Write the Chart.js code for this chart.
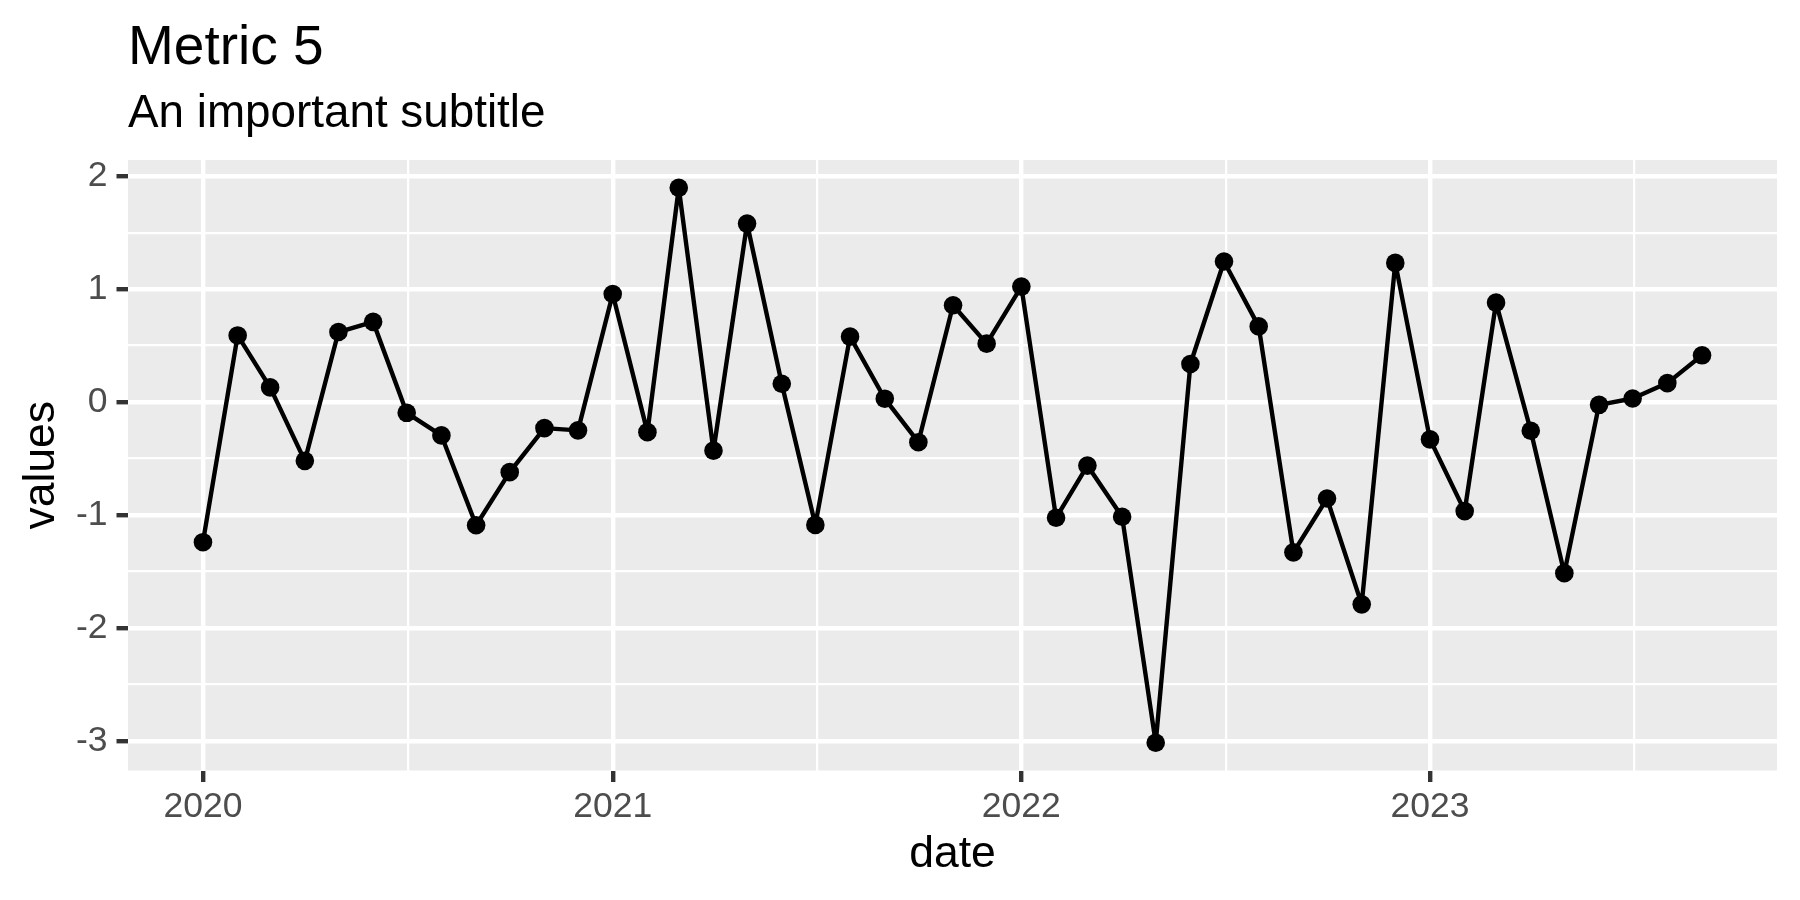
<!DOCTYPE html>
<html>
<head>
<meta charset="utf-8">
<title>Metric 5</title>
<script src="https://cdn.jsdelivr.net/npm/chart.js@4.4.0/dist/chart.umd.min.js"></script>
<style>
html, body { margin: 0; padding: 0; background: #ffffff; }
#wrap { width: 1800px; height: 900px; }
</style>
</head>
<body>
<div id="wrap"><canvas id="myChart"></canvas></div>
<script>
// monthly observations
var dates = [
    '2020-01', '2020-02', '2020-03', '2020-04', '2020-05', '2020-06',
    '2020-07', '2020-08', '2020-09', '2020-10', '2020-11', '2020-12',
    '2021-01', '2021-02', '2021-03', '2021-04', '2021-05', '2021-06',
    '2021-07', '2021-08', '2021-09', '2021-10', '2021-11', '2021-12',
    '2022-01', '2022-02', '2022-03', '2022-04', '2022-05', '2022-06',
    '2022-07', '2022-08', '2022-09', '2022-10', '2022-11', '2022-12',
    '2023-01', '2023-02', '2023-03', '2023-04', '2023-05', '2023-06',
    '2023-07', '2023-08', '2023-09'
];
var values = [
    -1.24, 0.59, 0.13, -0.52, 0.62, 0.71, -0.095, -0.295, -1.09, -0.62, -0.23, -0.25,
    0.957, -0.266, 1.897, -0.43, 1.58, 0.162, -1.087, 0.579, 0.03, -0.355, 0.857, 0.517,
    1.022, -1.024, -0.562, -1.015, -3.015, 0.337, 1.244, 0.67, -1.33, -0.853, -1.79, 1.232,
    -0.33, -0.965, 0.88, -0.254, -1.514, -0.024, 0.032, 0.168, 0.414
];
var xTickLabels = ['2020', '2021', '2022', '2023'];
var yTickValues = [-3, -2, -1, 0, 1, 2];

var titleText = 'Metric 5';
var subtitleText = 'An important subtitle';
var xTitle = 'date';
var yTitle = 'values';

var FONT = '"Liberation Sans", Arial, Helvetica, sans-serif';

function toTime(s) {
    var p = s.split('-');
    return Date.UTC(+p[0], +p[1] - 1, 1);
}

var points = dates.map(function(d, i) {
    return { x: toTime(d), y: values[i] };
});

// ggplot style 5% expansion of the data range
function expand(arr) {
    var lo = Math.min.apply(null, arr), hi = Math.max.apply(null, arr);
    var pad = (hi - lo) * 0.05;
    return [lo - pad, hi + pad];
}
var xs = points.map(function(p) { return p.x; });
var xRange = expand(xs);
var yRange = expand(values);

// major breaks + minor breaks half way between them
function xBreaks() {
    var major = xTickLabels.map(function(l) { return Date.UTC(+l, 0, 1); });
    var next = Date.UTC(+xTickLabels[xTickLabels.length - 1] + 1, 0, 1);
    var all = major.concat([next]);
    var ticks = [];
    for (var i = 0; i < major.length; i++) {
        ticks.push({ value: major[i], lab: xTickLabels[i] });
        ticks.push({ value: (all[i] + all[i + 1]) / 2, minor: true });
    }
    return ticks.filter(function(t) { return t.value >= xRange[0] && t.value <= xRange[1]; });
}
function yBreaks() {
    var ticks = [];
    var ext = [yTickValues[0] - 1].concat(yTickValues).concat([yTickValues[yTickValues.length - 1] + 1]);
    for (var i = 0; i < ext.length; i++) {
        ticks.push({ value: ext[i], minor: false });
        if (i < ext.length - 1) ticks.push({ value: (ext[i] + ext[i + 1]) / 2, minor: true });
    }
    return ticks.filter(function(t) { return t.value >= yRange[0] && t.value <= yRange[1]; });
}

function isMinor(c) { return c.tick && c.tick.minor; }

var gridOpts = {
    color: '#FFFFFF',
    lineWidth: function(c) { return isMinor(c) ? 2.2 : 4.4; },
    tickLength: 11.5,
    tickColor: function(c) { return isMinor(c) ? 'rgba(0,0,0,0)' : '#333333'; },
    tickWidth: function(c) { return isMinor(c) ? 0 : 4.4; }
};

var ggTheme = {
    id: 'ggTheme',
    beforeDraw: function(chart) {
        var a = chart.chartArea, ctx = chart.ctx;
        ctx.save();
        ctx.fillStyle = '#EBEBEB';
        ctx.fillRect(a.left, a.top, a.right - a.left, a.bottom - a.top);
        ctx.restore();
    },
    afterDraw: function(chart) {
        var a = chart.chartArea, ctx = chart.ctx;
        ctx.save();
        ctx.fillStyle = '#000000';
        ctx.textBaseline = 'alphabetic';
        ctx.textAlign = 'left';
        ctx.font = '55px ' + FONT;
        ctx.fillText(titleText, a.left, 63.5);
        ctx.font = '45.8px ' + FONT;
        ctx.fillText(subtitleText, a.left, 126.5);
        ctx.textAlign = 'center';
        ctx.font = '44.5px ' + FONT;
        ctx.fillText(xTitle, (a.left + a.right) / 2, 867);
        ctx.translate(53.5, (a.top + a.bottom) / 2);
        ctx.rotate(-Math.PI / 2);
        ctx.fillText(yTitle, 0, 0);
        ctx.restore();
    }
};

var ctx = document.getElementById('myChart').getContext('2d');
var myChart = new Chart(ctx, {
    type: 'line',
    data: {
        datasets: [{
            data: points,
            borderColor: '#000000',
            borderWidth: 4.4,
            borderJoinStyle: 'round',
            borderCapStyle: 'round',
            backgroundColor: '#000000',
            pointRadius: 9.3,
            pointHoverRadius: 9.3,
            pointBorderWidth: 0,
            pointBackgroundColor: '#000000',
            tension: 0,
            fill: false
        }]
    },
    options: {
        responsive: true,
        maintainAspectRatio: false,
        devicePixelRatio: 1,
        animation: false,
        events: [],
        layout: { padding: { left: 0, right: 23, top: 160, bottom: 0 } },
        plugins: {
            legend: { display: false },
            tooltip: { enabled: false },
            title: { display: false }
        },
        scales: {
            x: {
                type: 'linear',
                min: xRange[0],
                max: xRange[1],
                bounds: 'data',
                grid: gridOpts,
                border: { display: false },
                afterBuildTicks: function(scale) { scale.ticks = xBreaks(); },
                afterFit: function(scale) { scale.height = 129.5; },
                ticks: {
                    autoSkip: false,
                    maxRotation: 0,
                    padding: 4,
                    color: '#4D4D4D',
                    font: { family: FONT, size: 35.5 },
                    callback: function(v, i, ticks) { return ticks[i].lab || ''; }
                }
            },
            y: {
                min: yRange[0],
                max: yRange[1],
                bounds: 'data',
                grid: gridOpts,
                border: { display: false },
                afterBuildTicks: function(scale) { scale.ticks = yBreaks(); },
                afterFit: function(scale) { scale.width = 128; },
                ticks: {
                    autoSkip: false,
                    padding: 9,
                    color: '#4D4D4D',
                    font: { family: FONT, size: 35.5 },
                    callback: function(v, i, ticks) { return ticks[i].minor ? '' : String(v); }
                }
            }
        }
    },
    plugins: [ggTheme]
});
</script>
</body>
</html>
